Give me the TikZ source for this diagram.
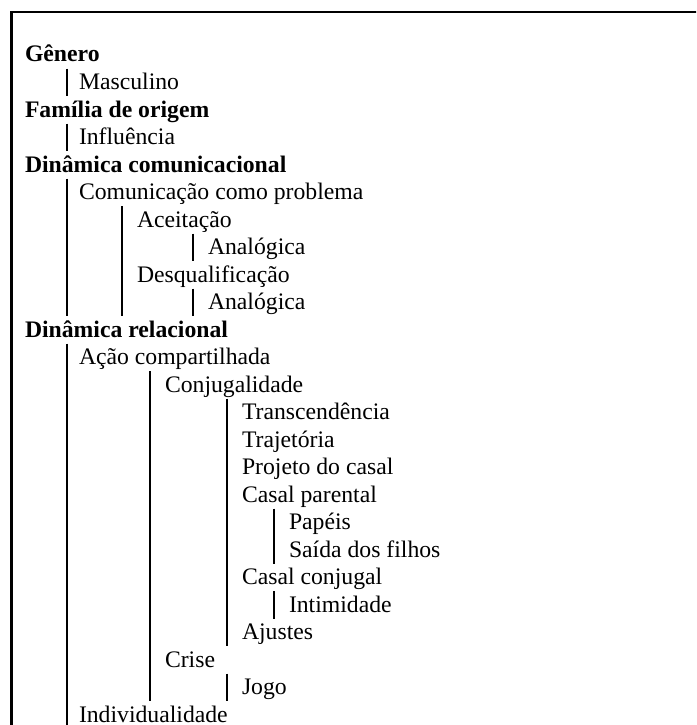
\documentclass[tikz,border=0pt]{standalone}
\usepackage{fontspec}
\setmainfont{Liberation Serif}
\begin{document}
\begin{tikzpicture}[x=1pt,y=-1pt,
  lbl/.style={anchor=base west,inner sep=0pt,outer sep=0pt,font=\fontsize{23.7}{27}\selectfont},
  head/.style={lbl,font=\fontsize{23.7}{27}\selectfont\bfseries},
  frameline/.style={line width=2.6pt},
  treeline/.style={line width=2pt}]
\useasboundingbox (0,0) rectangle (696,725);
\clip (0,0) rectangle (696,725);
% frame
\coordinate (ftl) at (11.5,12);
\coordinate (ftr) at (700,12);
\coordinate (fbl) at (11.5,730);
\draw[frameline] (ftr) -- (ftl) -- (fbl);
% texts
\node[head] (n0)  at (25,62)    {Gênero};
\node[lbl]  (n1)  at (79,89.5)  {Masculino};
\node[head] (n2)  at (25,117)   {Família de origem};
\node[lbl]  (n3)  at (79,144.5) {Influência};
\node[head] (n4)  at (25,172)   {Dinâmica comunicacional};
\node[lbl]  (n5)  at (79,199.5) {Comunicação como problema};
\node[lbl]  (n6)  at (137,227)  {Aceitação};
\node[lbl]  (n7)  at (208,254.5) {Analógica};
\node[lbl]  (n8)  at (137,282)  {Desqualificação};
\node[lbl]  (n9)  at (208,309.5) {Analógica};
\node[head] (n10) at (25,337)   {Dinâmica relacional};
\node[lbl]  (n11) at (79,364.5) {Ação compartilhada};
\node[lbl]  (n12) at (165,392)  {Conjugalidade};
\node[lbl]  (n13) at (242,419.5) {Transcendência};
\node[lbl]  (n14) at (242,447)  {Trajetória};
\node[lbl]  (n15) at (242,474.5) {Projeto do casal};
\node[lbl]  (n16) at (242,502)  {Casal parental};
\node[lbl]  (n17) at (289,529.5) {Papéis};
\node[lbl]  (n18) at (289,557)  {Saída dos filhos};
\node[lbl]  (n19) at (242,584.5) {Casal conjugal};
\node[lbl]  (n20) at (289,612)  {Intimidade};
\node[lbl]  (n21) at (242,639.5) {Ajustes};
\node[lbl]  (n22) at (165,667)  {Crise};
\node[lbl]  (n23) at (242,694.5) {Jogo};
\node[lbl]  (n24) at (79,722)   {Individualidade};
% tree lines
\coordinate (a1) at (66.5,68.5);  \coordinate (b1) at (66.5,96);
\coordinate (a2) at (66.5,123.5); \coordinate (b2) at (66.5,151);
\coordinate (a3) at (66.5,178.5); \coordinate (b3) at (66.5,316);
\coordinate (a4) at (122,206);    \coordinate (b4) at (122,316);
\coordinate (a5) at (193,233.5);  \coordinate (b5) at (193,261);
\coordinate (a6) at (193,288.5);  \coordinate (b6) at (193,316);
\coordinate (a7) at (66.5,343.5); \coordinate (b7) at (66.5,730);
\coordinate (a8) at (150,371);    \coordinate (b8) at (150,701);
\coordinate (a9) at (227,398.5);  \coordinate (b9) at (227,646);
\coordinate (a10) at (274,508.5); \coordinate (b10) at (274,563.5);
\coordinate (a11) at (274,591);   \coordinate (b11) at (274,618.5);
\coordinate (a12) at (227,673.5); \coordinate (b12) at (227,701);
\foreach \i in {1,...,12} {\draw[treeline] (a\i) -- (b\i);}
\end{tikzpicture}
\end{document}
